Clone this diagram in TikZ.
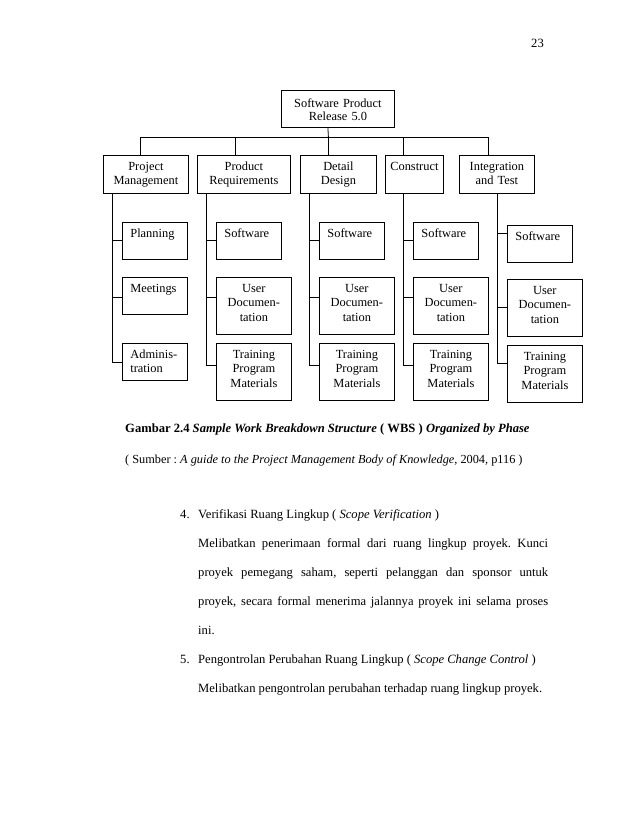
\documentclass[tikz,border=0pt]{standalone}
\usepackage{fontspec}
\setmainfont{Liberation Serif}
\usepackage{tikz}
\usetikzlibrary{positioning, calc}
\frenchspacing

\begin{document}
\begin{tikzpicture}[
    x=1pt, y=-1pt,
    every node/.style={inner sep=0pt},
    box/.style={draw, line width=0.8pt, anchor=north west, align=center, text height=15pt, font=\fontsize{12.4}{14.5}\selectfont},
    rootbox/.style={box, text width=113pt, text height=17pt, text depth=20pt, font=\fontsize{12.4}{13}\selectfont},
    phase/.style={box, text width=#1, text depth=23pt},
    leafl/.style={box, align=left, inner xsep=8pt, text width=49pt, text depth=22pt},
    leaftall/.style={box, text width=75pt, text depth=42pt},
    link/.style={line width=0.8pt},
    txt/.style={anchor=base west, font=\fontsize{12.6}{14.5}\selectfont},
    para/.style={anchor=base west, text width=350pt, align=justify, font=\fontsize{12.6}{29}\selectfont}
]
\useasboundingbox (0,0) rectangle (638,826);

\node[anchor=base east, font=\fontsize{12.6}{14}\selectfont] (page) at (544,48) {23};

% top and phases
\node[rootbox] (root) at (281,90) {Software Product\\Release 5.0};
\node[phase=85pt] (pm) at (103,155) {Project\\Management};
\node[phase=93pt] (pr) at (197,155) {Product\\Requirements};
\node[phase=76pt] (dd) at (300,155) {Detail\\Design};
\node[phase=58pt] (con) at (385,155) {Construct};
\node[phase=75pt] (it) at (459,155) {Integration\\and Test};

% work packages
\node[leafl] (plan) at (122,222) {Planning};
\node[leafl] (meet) at (122,277) {Meetings};
\node[leafl] (admin) at (122,343) {Adminis-\\tration};

\node[leafl] (prsw) at (216,222) {Software};
\node[leaftall] (prdoc) at (216,277) {User\\Documen-\\tation};
\node[leaftall] (prtrain) at (216,343) {Training\\Program\\Materials};

\node[leafl] (ddsw) at (319,222) {Software};
\node[leaftall] (dddoc) at (319,277) {User\\Documen-\\tation};
\node[leaftall] (ddtrain) at (319,343) {Training\\Program\\Materials};

\node[leafl] (consw) at (413,222) {Software};
\node[leaftall] (condoc) at (413,277) {User\\Documen-\\tation};
\node[leaftall] (contrain) at (413,343) {Training\\Program\\Materials};

\node[leafl] (itsw) at (507,225) {Software};
\node[leaftall] (itdoc) at (507,279) {User\\Documen-\\tation};
\node[leaftall] (ittrain) at (507,345) {Training\\Program\\Materials};

% tree lines
\draw[link] ($(root.south)+(-10,0)$) -- ($(dd.north)+(-10,-18)$);
\draw[link] ($(pm.north)+(-6,-18)$) -- ($(it.north)+(-9,-18)$);
\foreach \p/\dx in {pm/-6, pr/-9, dd/-10, con/-11, it/-9}
  \draw[link] ($(\p.north)+(\dx,0)$) -- ++(0,-18);

\foreach \ph/\a/\da/\b/\db/\c/\dc in {pm/plan/18/meet/20/admin/19, pr/prsw/18/prdoc/20/prtrain/22, dd/ddsw/18/dddoc/20/ddtrain/22, con/consw/18/condoc/20/contrain/22, it/itsw/8/itdoc/28/ittrain/18}
{
  \draw[link] ($(\c.north west |- \ph.south)+(-10,0)$) |- ($(\c.north west)+(0,\dc)$);
  \draw[link] ($(\a.north west)+(-10,\da)$) -- ($(\a.north west)+(0,\da)$);
  \draw[link] ($(\b.north west)+(-10,\db)$) -- ($(\b.north west)+(0,\db)$);
}

% caption and source
\node[txt] (caption) at (125,432) {\textbf{Gambar 2.4 \textit{Sample Work Breakdown Structure} ( WBS ) \textit{Organized by Phase}}};
\node[txt, font=\fontsize{12.3}{14.5}\selectfont] (source) at (125,463) {( Sumber : \textit{A guide to the Project Management Body of Knowledge}, 2004, p116 )};

% body text
\node[txt] (num4) at (180,518) {4.};
\node[txt] (head4) at (198,518) {Verifikasi Ruang Lingkup ( \textit{Scope Verification} )};
\node[para] (par4) at (198,547) {Melibatkan penerimaan formal dari ruang lingkup proyek. Kunci\linebreak proyek pemegang saham, seperti pelanggan dan sponsor untuk\linebreak proyek, secara formal menerima jalannya proyek ini selama proses\linebreak ini.};
\node[txt] (num5) at (180,663) {5.};
\node[txt] (head5) at (198,663) {Pengontrolan Perubahan Ruang Lingkup ( \textit{Scope Change Control} )};
\node[txt] (par5) at (198,692) {Melibatkan pengontrolan perubahan terhadap ruang lingkup proyek.};

\end{tikzpicture}
\end{document}
